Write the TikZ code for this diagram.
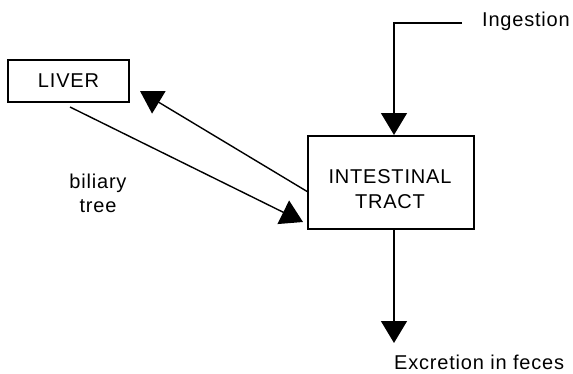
\documentclass[tikz,border=0pt]{standalone}
\usepackage{fontspec}
\setmainfont{Liberation Sans}[LetterSpace=4]
\usetikzlibrary{arrows.meta}
\begin{document}
\begin{tikzpicture}[x=1pt,y=-1pt,
  organ/.style={draw,line width=1.6pt,inner sep=0pt},
  lbl/.style={inner sep=0pt,align=center,font=\fontsize{20}{24}\selectfont},
  flow/.style={line width=1.4pt,-{Triangle[length=22pt,width=26pt]}}]
\useasboundingbox (0,0) rectangle (573,373);
\node[organ,minimum width=121pt,minimum height=42pt,font=\fontsize{20}{24}\selectfont] (liver) at (68.5,81) {LIVER};
\node[organ,minimum width=166pt,minimum height=93pt] (gut) at (391,182.5) {};
\node[lbl] (gutlbl) at (390,189) {INTESTINAL\\[1pt]TRACT};
\node[lbl,anchor=west] (ing) at (482,21) {Ingestion};
\node[lbl,anchor=west] (exc) at (394,362) {Excretion in feces};
\node[lbl] (bil) at (98,193) {biliary\\tree};
\coordinate (ingstart) at (462,23);
\coordinate (lstart) at (70,107);
\coordinate (ltip) at (303,222);
\coordinate (gstart) at (308,192);
\coordinate (gtip) at (140,91);
\coordinate (etip) at (394,343);
\draw[flow] (ingstart) -- (394,23) -- (394,135);
\draw[flow] (lstart) -- (ltip);
\draw[flow] (gstart) -- (gtip);
\draw[flow] (gut.south -| 394,0) -- (etip);
\end{tikzpicture}
\end{document}
